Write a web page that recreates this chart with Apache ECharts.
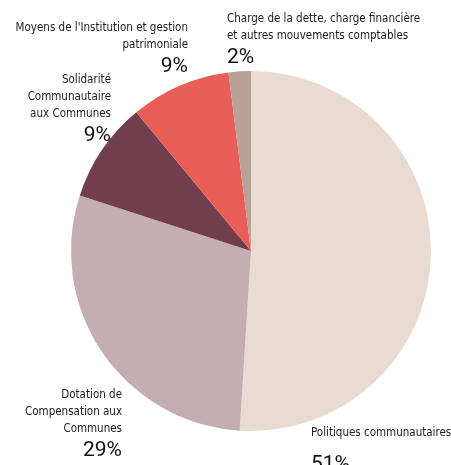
<!DOCTYPE html>
<html>
<head>
<meta charset="utf-8">
<script src="https://cdn.jsdelivr.net/npm/echarts@6/dist/echarts.min.js"></script>
<style>
  html, body { margin: 0; padding: 0; background: #fff; }
  #chart { width: 451px; height: 465px; }
</style>
</head>
<body>
<div id="chart"></div>
<script>
// données du graphique
const categories = [
  'Politiques communautaires',
  'Dotation de\nCompensation aux\nCommunes',
  'Solidarité\nCommunautaire\naux Communes',
  "Moyens de l'Institution et gestion\npatrimoniale",
  'Charge de la dette, charge financière\net autres mouvements comptables'
]
const values = [51, 29, 9, 9, 2]
const colors = ['#e9dbd2', '#c5aeb1', '#723e4e', '#e95f58', '#b8a197']

// placement des étiquettes (x, y, alignement)
const labelPos = [
  { x: 311, y: 425, align: 'left' },
  { x: 122, y: 387, align: 'right' },
  { x: 111, y: 72, align: 'right' },
  { x: 188, y: 20, align: 'right' },
  { x: 227, y: 11, align: 'left' }
]

const chart = echarts.init(document.getElementById('chart'))

const font = '"Liberation Sans Narrow", "DejaVu Sans Condensed", sans-serif'

chart.setOption({
  animation: false,
  series: [
    {
      type: 'pie',
      center: [251, 251],
      radius: [0, 180],
      startAngle: 90,
      clockwise: true,
      avoidLabelOverlap: false,
      data: categories.map((c, i) => ({
        name: c,
        value: values[i],
        itemStyle: { color: colors[i] },
        label: {
          align: labelPos[i].align,
          rich: {
            n: { align: labelPos[i].align },
            p: { align: labelPos[i].align, lineHeight: i === 0 ? 33 : 23, verticalAlign: 'bottom' }
          }
        }
      })),
      label: {
        show: true,
        position: 'outside',
        overflow: 'none',
        width: 300,
        formatter: p => '{n|' + p.name.split('\n').join('}\n{n|') + '}\n{p|' + p.value + '%}',
        rich: {
          n: { fontFamily: font, fontSize: 11.5, color: '#1a1a1a', lineHeight: 17 },
          p: { fontFamily: 'Roboto, sans-serif', fontSize: 21, color: '#111', lineHeight: 23 }
        }
      },
      labelLine: { show: false },
      labelLayout: params => {
        const lp = labelPos[params.dataIndex]
        return { x: lp.x, y: lp.y, align: lp.align, verticalAlign: 'top', moveOverlap: false, hideOverlap: false }
      }
    }
  ]
})
</script>
</body>
</html>
